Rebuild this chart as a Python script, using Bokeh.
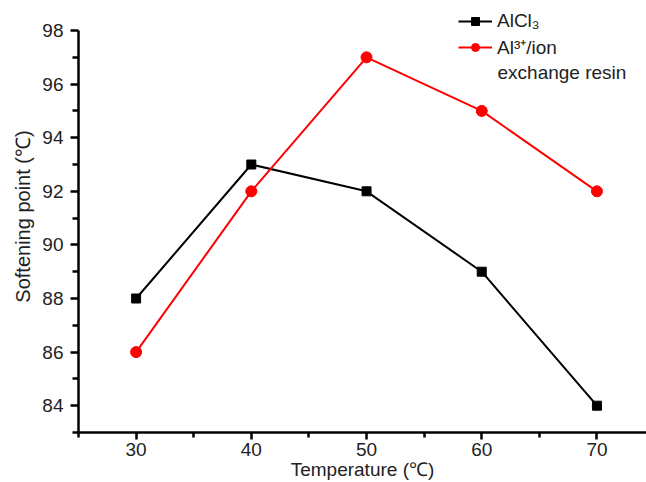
from bokeh.plotting import figure
from bokeh.models import Range1d, Legend, LegendItem, FixedTicker, Label
from bokeh.embed import file_html
from bokeh.resources import INLINE

temperature = [30, 40, 50, 60, 70]
alcl3 = [88, 93, 92, 89, 84]
al_resin = [86, 92, 97, 95, 92]
x_ticks = [30, 40, 50, 60, 70]
x_minor = [25, 35, 45, 55, 65, 75]
y_ticks = [84, 86, 88, 90, 92, 94, 96, 98]
y_minor = [83, 85, 87, 89, 91, 93, 95, 97]

FONT = "Liberation Sans"
BOTTOM = 50
FRAME_H = 482 - BOTTOM

p = figure(width=646, height=482, output_backend="svg", toolbar_location=None,
           x_range=Range1d(25, 74.3), y_range=Range1d(83, 99.12),
           min_border_left=78, min_border_right=0, min_border_top=0,
           min_border_bottom=BOTTOM)
p.outline_line_color = None
p.xgrid.visible = False
p.ygrid.visible = False

for ax in (p.xaxis[0], p.yaxis[0]):
    ax.axis_line_width = 2.5
    ax.axis_line_color = "black"
    ax.major_tick_line_width = 2.5
    ax.minor_tick_line_width = 2.5
    ax.major_tick_in = 0
    ax.minor_tick_in = 0
    ax.major_label_text_font = FONT
    ax.major_label_text_font_size = "19px"
    ax.major_label_text_color = "#222222"
    ax.axis_label_text_font = FONT
    ax.axis_label_text_font_size = "19px"
    ax.axis_label_text_font_style = "normal"
    ax.axis_label_text_color = "#222222"

p.yaxis[0].axis_label_text_font_size = "20px"
p.yaxis[0].bounds = (83, 98)
p.xaxis[0].ticker = FixedTicker(ticks=x_ticks, minor_ticks=x_minor)
p.yaxis[0].ticker = FixedTicker(ticks=y_ticks, minor_ticks=y_minor)
p.xaxis[0].major_tick_out = 7
p.xaxis[0].minor_tick_out = 5
p.yaxis[0].major_tick_out = 8
p.yaxis[0].minor_tick_out = 6
p.xaxis[0].major_label_standoff = 3
p.yaxis[0].major_label_standoff = 7
p.xaxis[0].axis_label = "Temperature (\u2103)"
p.yaxis[0].axis_label = "Softening point (\u2103)"
p.xaxis[0].axis_label_standoff = 0
p.yaxis[0].axis_label_standoff = 5

l1 = p.line(temperature, alcl3, line_color="black", line_width=2)
s1 = p.scatter(temperature, alcl3, marker="square", size=9, color="black")
l2 = p.line(temperature, al_resin, line_color="#ff0000", line_width=2)
s2 = p.scatter(temperature, al_resin, marker="circle", size=11, color="#ff0000")

legend = Legend(items=[LegendItem(label="AlCl\u2083", renderers=[l1, s1]),
                       LegendItem(label="Al\u00b3\u207a/ion", renderers=[l2, s2])],
                location=(380, FRAME_H - 60), border_line_color=None, background_fill_alpha=0,
                label_text_font=FONT, label_text_font_size="19px",
                label_text_color="#222222", label_height=20, glyph_height=20,
                glyph_width=34, label_standoff=5, spacing=2, padding=0, margin=0)
p.add_layout(legend)

p.add_layout(Label(x=419, y=FRAME_H - 72, x_units="screen", y_units="screen",
                   text="exchange resin", text_font=FONT, text_font_size="19px",
                   text_color="#222222", text_baseline="middle"))

open("out.html", "w").write(file_html(p, INLINE))
